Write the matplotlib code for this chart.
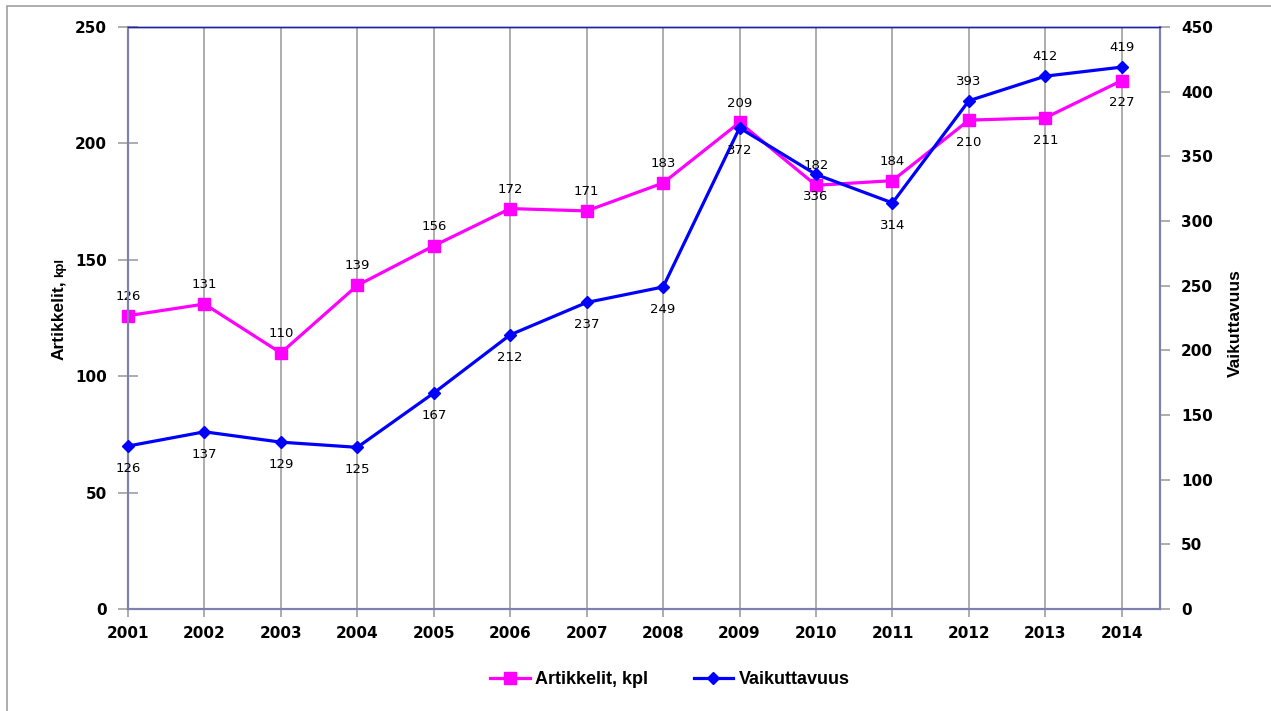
import matplotlib.pyplot as plt
import matplotlib.patches as patches
import numpy as np

years = ['2001', '2002', '2003', '2004', '2005', '2006', '2007',
         '2008', '2009', '2010', '2011', '2012', '2013', '2014']
artikkelit = [126, 131, 110, 139, 156, 172, 171, 183, 209, 182, 184, 210, 211, 227]
vaikuttavuus = [126, 137, 129, 125, 167, 212, 237, 249, 372, 336, 314, 393, 412, 419]

W, H = 1271, 711
fig = plt.figure(figsize=(W / 100, H / 100), dpi=100)

# outer chart border
fig.patches.append(patches.Rectangle((7 / W, -0.05), 1.2, 1 - 6 / H + 0.05,
                                     transform=fig.transFigure, fill=False,
                                     edgecolor='#a0a0a0', linewidth=1.2))

ax = fig.add_axes([128 / W, 1 - 609 / H, (1160 - 128) / W, (609 - 27) / H])
ax2 = ax.twinx()

x = np.arange(len(years))
spine_col = '#8080b0'
tick_col = '#a0a0a0'

for xi in x:
    ax.axvline(xi, color=tick_col, lw=1.2, zorder=0)

l1, = ax.plot(x, artikkelit, color='#ff00ff', lw=2.3, marker='s', ms=8.5,
              label='Artikkelit, kpl', zorder=3, clip_on=False)
l2, = ax2.plot(x, vaikuttavuus, color='#0000ff', lw=2.3, marker='D', ms=6.5,
               label='Vaikuttavuus', zorder=3, clip_on=False)

lab_font = dict(fontsize=9.5, family='DejaVu Sans', ha='center', va='center')
for i, (a, v) in enumerate(zip(artikkelit, vaikuttavuus)):
    up = i < 11
    ax.annotate(str(a), (x[i], a), textcoords='offset points',
                xytext=(0, 14 if up else -16), **lab_font)
    ax2.annotate(str(v), (x[i], v), textcoords='offset points',
                 xytext=(0, -16 if up else 14), **lab_font)

ax.set_xlim(0, 13.5)
ax.set_ylim(0, 250)
ax2.set_ylim(0, 450)
ax.set_yticks(range(0, 251, 50))
ax2.set_yticks(range(0, 451, 50))
ax.set_xticks(x)
ax.set_xticklabels(years)

for a in (ax, ax2):
    for s in a.spines.values():
        s.set_color(spine_col)
        s.set_linewidth(1.5)
    a.spines['top'].set_color('#2020a0')
    a.spines['top'].set_linewidth(1)

ax.tick_params(axis='y', direction='inout', length=14, color=tick_col, width=1.2,
               labelsize=11, pad=8)
ax.tick_params(axis='x', direction='out', length=6, color=tick_col, width=1.2,
               labelsize=11, pad=6)
ax2.tick_params(axis='y', direction='out', length=7, color=tick_col, width=1.2,
                labelsize=11, pad=8)
for lbl in ax.get_xticklabels() + ax.get_yticklabels() + ax2.get_yticklabels():
    lbl.set_fontweight('bold')

ax.patch.set_visible(False)
ax2.patch.set_visible(False)

# y-axis titles ("kpl" in smaller type, right after "Artikkelit,")
t1 = fig.text(66 / W, 1 - 360 / H, 'Artikkelit,', rotation=90, ha='right', va='bottom',
              family='Liberation Sans', fontweight='bold', fontsize=12.5)
fig.canvas.draw()
bb = t1.get_window_extent(fig.canvas.get_renderer())
fig.text(66 / W, (bb.y1 + 3) / H, 'kpl', rotation=90, ha='right', va='bottom',
         family='Liberation Sans', fontweight='bold', fontsize=9.5)
fig.text(1235 / W, 1 - 323 / H, 'Vaikuttavuus', rotation=90, ha='center', va='center',
         family='Liberation Sans', fontweight='bold', fontsize=12.5)

fig.legend(handles=[l1, l2], loc='center', bbox_to_anchor=(670 / W, 1 - 680 / H),
           ncol=2, frameon=False, prop={'family': 'Liberation Sans', 'weight': 'bold',
                                         'size': 13},
           handlelength=2.2, columnspacing=2.5, handletextpad=0.3)

fig.savefig('out.png', dpi=100)
